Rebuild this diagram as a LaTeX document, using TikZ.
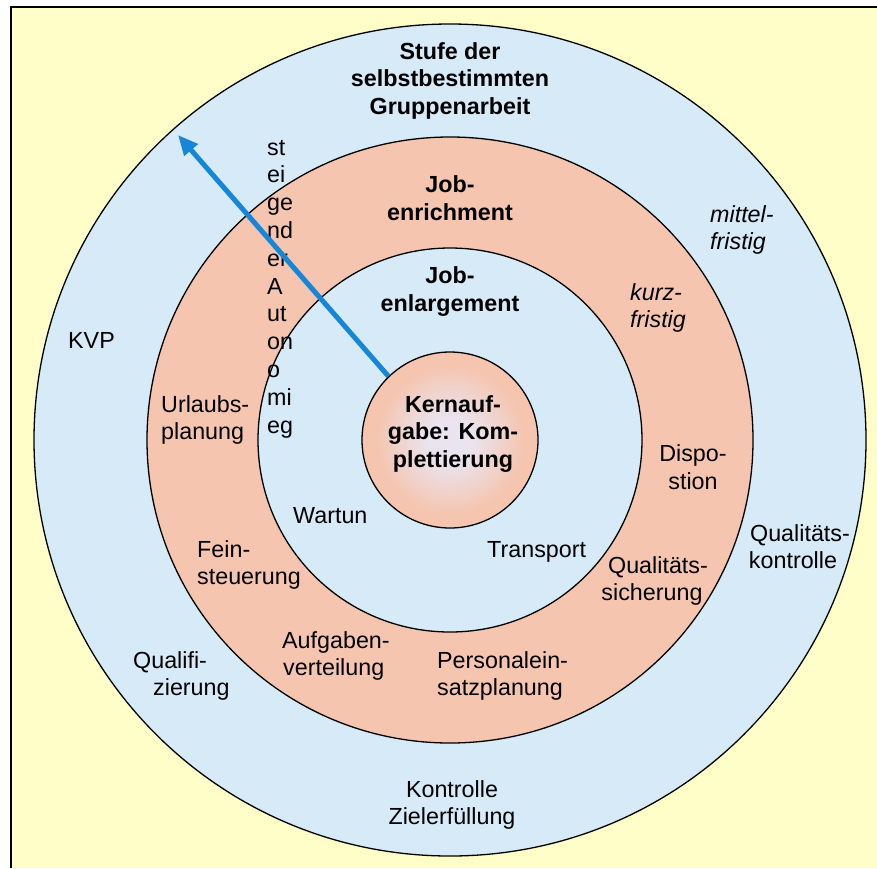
\documentclass[tikz,border=0pt]{standalone}
\usepackage{fontspec}
\setmainfont{Liberation Sans}
\usetikzlibrary{arrows.meta}
\definecolor{bgyellow}{RGB}{255,253,200}
\definecolor{ringblue}{RGB}{214,234,248}
\definecolor{salmon}{RGB}{245,197,176}
\definecolor{corelight}{RGB}{234,228,240}
\definecolor{arrowblue}{RGB}{22,135,216}
\pgfdeclareradialshading{coreshade}{\pgfpoint{0bp}{0bp}}{color(0bp)=(corelight); color(6bp)=(corelight); color(21bp)=(salmon); color(50bp)=(salmon)}
\begin{document}
\begin{tikzpicture}[x=1pt,y=-1pt,
  ring/.style={circle, draw=black, line width=1.3pt, inner sep=0pt, minimum size=#1},
  lbl/.style={font=\fontsize{23.3}{27.5}\selectfont, inner sep=0pt, anchor=base west, align=left},
  clbl/.style={font=\fontsize{23.3}{27.5}\selectfont, inner sep=0pt, anchor=base, align=center},
  bold/.style={font=\fontsize{23.3}{27.5}\selectfont\bfseries},
  ital/.style={font=\fontsize{23.3}{27.5}\selectfont\itshape}
]
\useasboundingbox (0,0) rectangle (877,868);
% background frame
\fill[bgyellow] (11,7) rectangle (877,868);
\draw[line width=2.4pt] (11,868) -- (11,7) -- (877,7);
% rings
\node[ring=832pt, fill=ringblue] (outer) at (450,440) {};
\node[ring=606pt, fill=salmon] (middle) at (450,440) {};
\node[ring=384pt, fill=ringblue] (inner) at (450,440) {};
\node[ring=176pt, shade, shading=coreshade] (core) at (450,440) {};
% texts (y = baseline of the last line)
\node[clbl, bold] (title) at (450,114) {Stufe der\\selbstbestimmten\\Gruppenarbeit};
\node[clbl, bold] (enrich) at (450,220) {Job-\\enrichment};
\node[clbl, bold] (enlarge) at (450,311) {Job-\\enlargement};
\node[clbl, bold] (kern) at (453,467) {Kernauf-\\gabe: Kom-\\plettierung};
\node[lbl, font=\fontsize{23.3}{27.8}\selectfont] (auto) at (267,433) {st\\ei\\ge\\nd\\er\\A\\ut\\on\\o\\mi\\eg};
\node[lbl] (urlaub) at (161,439.5) {Urlaubs-\\planung};
\node[lbl] (wartung) at (293,523) {Wartun};
\node[lbl] (fein) at (197,584.5) {Fein-\\steuerung};
\node[lbl] (aufgaben) at (282,675.5) {Aufgaben-\\\hspace*{1pt}verteilung};
\node[lbl] (qualifi) at (133,695.5) {Qualifi-\\\hspace*{20pt}zierung};
\node[lbl] (transport) at (487,557) {Transport};
\node[clbl] (qsich) at (652,600.5) {\hspace*{12pt}Qualitäts-\\sicherung};
\node[lbl] (personal) at (437,695.5) {Personalein-\\satzplanung};
\node[clbl] (dispo) at (693,489) {Dispo-\\stion};
\node[lbl, ital] (kurz) at (630,327.5) {kurz-\\fristig};
\node[lbl, ital] (mittel) at (710,249.5) {mittel-\\fristig};
\node[lbl] (kvp) at (68,348) {KVP};
\node[clbl] (qkontr) at (793,568.5) {\hspace*{14pt}Qualitäts-\\kontrolle};
\node[clbl] (kontrolle) at (452,824.5) {Kontrolle\\Zielerfüllung};
% arrow
\coordinate (tip) at (178,135);
\draw[arrowblue, line width=5pt, -{Triangle[length=20pt,width=17pt]}] (core.134) -- (tip);
\end{tikzpicture}
\end{document}
